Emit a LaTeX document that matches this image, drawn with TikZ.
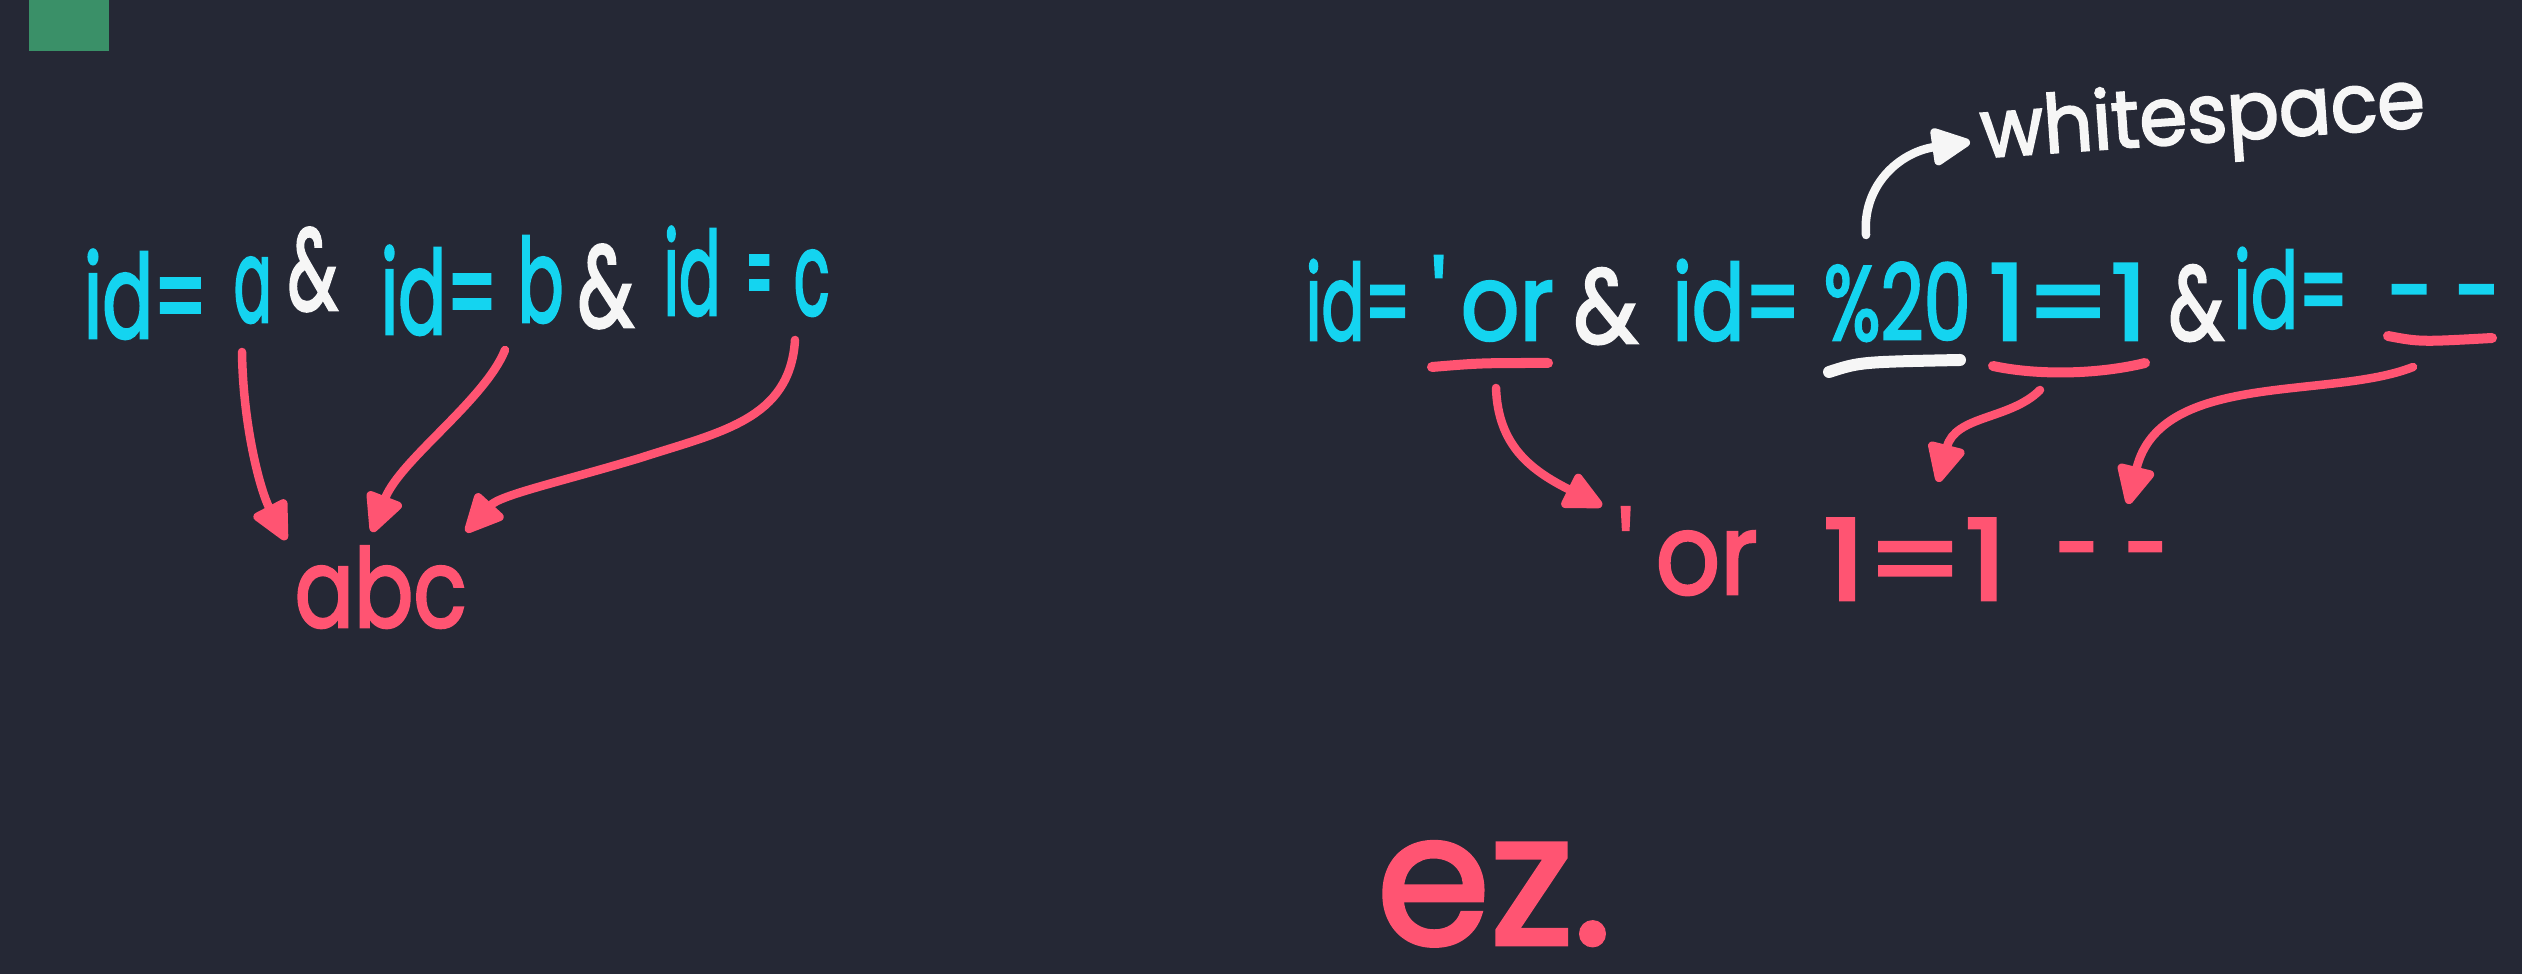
\documentclass[tikz,border=0pt]{standalone}
\usepackage{fontspec}
\usepackage{graphicx}
\newfontfamily\hand[FakeBold=2.5]{Poppins}
\usetikzlibrary{arrows.meta}
\definecolor{bg}{HTML}{252835}
\definecolor{cy}{HTML}{14D4F0}
\definecolor{rd}{HTML}{FF5472}
\definecolor{wt}{HTML}{F6F6F6}
\definecolor{gr}{HTML}{3A9068}
\newlength\pxu
\setlength\pxu{0.01cm}
\newcommand\seg[2]{\resizebox{#1\pxu}{\height}{#2}}
\begin{document}
\begin{tikzpicture}[x=0.01cm,y=-0.01cm,
  tl/.style={font=\hand\fontsize{33}{38}\selectfont, inner sep=0pt, anchor=base west},
  tr/.style={font=\hand\fontsize{30}{36}\selectfont, inner sep=0pt, anchor=base west},
  rs/.style={font=\hand\fontsize{32}{38}\selectfont, inner sep=0pt, anchor=base west, text=rd},
  uline/.style={line width=0.1cm, line cap=round},
  arr/.style={line width=0.085cm, line cap=round, -{Triangle[length=0.44cm,width=0.40cm,round]}},
]
\fill[bg] (0,0) rectangle (2522,974);
\useasboundingbox (0,0) rectangle (2522,974);
\fill[gr] (29,0) rectangle (109,51);

% left line
\node[tl,text=cy] (l1) at (83,338) {\seg{124}{id=}};
\node[tl,text=cy] (la) at (233,322) {\seg{38}{a}};
\node[tl,text=wt] (lamp1) at (287,310) {\seg{50}{\&}};
\node[tl,text=cy] (l2) at (380,334) {\seg{117}{id=}};
\node[tl,text=cy] (lb) at (517,322) {\seg{46}{b}};
\node[tl,text=wt] (lamp2) at (577,327) {\seg{56}{\&}};
\node[tl,text=cy] (l3) at (663,315) {\seg{57}{id}};
\node[tl,text=cy] (l3e) at (745,315) {\seg{27}{=}};
\node[tl,text=cy] (lc) at (793,315) {\seg{36}{c}};

\node[rs,font=\hand\fontsize{31}{36}\selectfont] (abc) at (294,627) {\seg{172}{abc}};

\coordinate (a1s) at (242,352);
\coordinate (a1e) at (286,540);
\coordinate (a2s) at (505,350);
\coordinate (a2e) at (372,532);
\coordinate (a3s) at (795,340);
\coordinate (a3m) at (640,458);
\coordinate (a3e) at (466,532);
\draw[arr,rd] (a1s) .. controls (243,425) and (260,490) .. (a1e);
\draw[arr,rd] (a2s) .. controls (485,400) and (400,460) .. (a2e);
\draw[arr,rd] (a3s) .. controls (790,420) and (720,432) .. (a3m) .. controls (560,482) and (500,495) .. (a3e);

% right line
\node[tr,text=cy] (r1) at (1305,340) {\seg{105}{id=}};
\node[tr,text=cy] (rq) at (1431,340) {\seg{14}{'}};
\node[tr,text=cy] (ror) at (1460,340) {\seg{93}{or}};
\node[tr,text=wt] (ramp1) at (1573,343) {\seg{64}{\&}};
\node[tr,text=cy] (r2) at (1672,340) {\seg{128}{id=}};
\node[tr,text=cy] (rws) at (1823,340) {\seg{147}{\%20}};
\node[tr,text=cy] (rone) at (1988,340) {\seg{159}{1=1}};
\node[tr,text=wt] (ramp2) at (2168,340) {\seg{55}{\&}};
\node[tr,text=cy] (r3) at (2233,328) {\seg{115}{id=}};
\node[tr,text=cy] (rdd) at (2387,328) {\seg{113}{\hbox{-}\kern8pt\hbox{-}}};

% underlines
\draw[uline,rd] (1432,367) .. controls (1480,363) .. (1548,363);
\draw[uline,wt,line width=0.12cm] (1829,372) .. controls (1860,362) .. (1960,360);
\draw[uline,rd] (1993,366) .. controls (2040,376) and (2100,374) .. (2145,363);
\draw[uline,rd] (2388,336) .. controls (2420,342) .. (2492,338);

% whitespace label
\node[font=\hand\fontsize{23}{28}\selectfont, text=wt, inner sep=0pt, rotate=4] (wsp) at (2203,122) {\seg{445}{whitespace}};
\coordinate (ws1) at (1866,235);
\coordinate (ws2) at (1970,142);
\draw[arr,wt] (ws1) .. controls (1862,185) and (1900,152) .. (ws2);

% result
\node[rs] (resq) at (1618,597) {\seg{14}{'}};
\node[rs] (res1) at (1655,594) {\seg{102}{or}};
\node[rs] (res2) at (1822,600) {\seg{185}{1=1}};
\node[rs] (res3) at (2055,588) {\seg{113}{\hbox{-}\kern10pt\hbox{-}}};

\coordinate (b1s) at (1496,388);
\coordinate (b1e) at (1602,506);
\coordinate (b2s) at (2040,390);
\coordinate (b2e) at (1938,482);
\coordinate (b3s) at (2413,367);
\coordinate (b3e) at (2128,504);
\draw[arr,rd] (b1s) .. controls (1498,445) and (1530,470) .. (b1e);
\draw[arr,rd] (b2s) .. controls (2010,420) and (1955,415) .. (b2e);
\draw[arr,rd] (b3s) .. controls (2330,400) and (2160,370) .. (b3e);

% ez.
\node[font=\hand\fontsize{52}{58}\selectfont, text=rd, inner sep=0pt, anchor=base west] (ez) at (1376,944) {ez.};
\end{tikzpicture}
\end{document}
